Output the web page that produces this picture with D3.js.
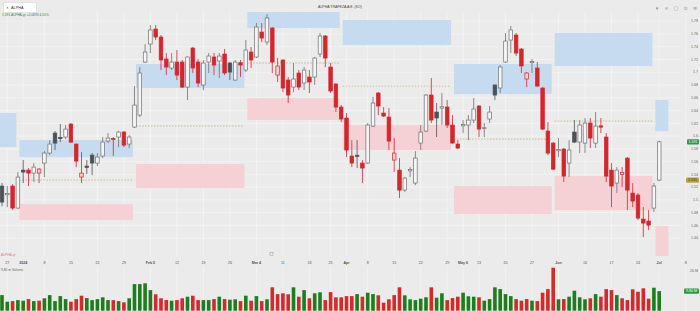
<!DOCTYPE html>
<html>
<head>
<meta charset="utf-8">
<script src="https://cdnjs.cloudflare.com/ajax/libs/d3/7.8.5/d3.min.js"></script>
<style>
body { margin: 0; background: #ebebeb; overflow: hidden; }
svg { display: block; font-family: "Liberation Sans", Arial, sans-serif; }
</style>
</head>
<body>
<svg id="chart" width="700" height="311"></svg>
<script>
// daily OHLC + volume (millions), one entry per trading day
var opens = [1.5217,1.508,1.5217,1.4872,1.5467,1.5467,1.542,1.542,1.5577,1.5734,
  1.6047,1.598,1.5985,1.6188,1.5875,1.5358,1.553,1.5702,1.5577,1.5687,
  1.5922,1.596,1.5985,1.6063,1.5875,1.6141,1.6329,1.716,1.7442,1.7677,
  1.7552,1.7207,1.7066,1.716,1.716,1.6768,1.738,1.716,1.68,1.716,
  1.7239,1.7176,1.7286,1.7145,1.6878,1.715,1.7035,1.7317,1.7239,1.763,
  1.7474,1.7693,1.6956,1.7192,1.6878,1.6768,1.6988,1.6831,1.6925,1.6925,
  1.7286,1.7568,1.7082,1.6815,1.6455,1.6283,1.5687,1.57,1.5577,1.5577,
  1.6157,1.6674,1.6361,1.6298,1.5624,1.5467,1.5154,1.5455,1.5264,1.589,
  1.6079,1.6643,1.6376,1.644,1.6455,1.6173,1.5875,1.616,1.6173,1.6251,
  1.6471,1.612,1.6267,1.68,1.6753,1.716,1.7505,1.7583,1.7364,1.6894,
  1.715,1.7066,1.6753,1.6079,1.589,1.577,1.5797,1.5577,1.6063,1.5906,
  1.589,1.6204,1.589,1.616,1.5985,1.5467,1.5264,1.54,1.5655,1.5107,
  1.5076,1.47,1.4668,1.4872,1.5311];
var highs = [1.5264,1.5217,1.5248,1.5436,1.5624,1.5499,1.5577,1.55,1.5765,1.5937,
  1.6079,1.6188,1.6173,1.6204,1.588,1.5749,1.5624,1.5734,1.5734,1.5985,
  1.6047,1.5985,1.6079,1.6079,1.6016,1.6784,1.7082,1.7442,1.774,1.774,
  1.7583,1.7301,1.7301,1.7348,1.7192,1.7245,1.7395,1.7207,1.7192,1.7301,
  1.7301,1.7301,1.7364,1.716,1.7192,1.7192,1.7505,1.7395,1.7772,1.7772,
  1.7913,1.7709,1.7223,1.72,1.6925,1.7145,1.7035,1.7082,1.7035,1.7239,
  1.7615,1.7583,1.7145,1.6831,1.6486,1.6361,1.5937,1.5937,1.5624,1.6204,
  1.6612,1.669,1.6455,1.6439,1.5969,1.5655,1.5358,1.5514,1.5765,1.6173,
  1.6659,1.6909,1.6518,1.6674,1.6565,1.6329,1.5937,1.6251,1.6329,1.6596,
  1.6486,1.6204,1.6471,1.681,1.7113,1.7615,1.7725,1.7615,1.738,1.7003,
  1.7207,1.716,1.6768,1.622,1.5906,1.5969,1.5812,1.5937,1.6251,1.6251,
  1.6283,1.6283,1.6376,1.6283,1.6047,1.5577,1.5514,1.5514,1.5671,1.5264,
  1.5107,1.4888,1.484,1.5264,1.593];
var lows = [1.4903,1.4888,1.484,1.486,1.5264,1.5217,1.528,1.5264,1.5358,1.5702,
  1.5781,1.5906,1.5953,1.589,1.5514,1.5264,1.5405,1.5389,1.553,1.5655,
  1.589,1.5687,1.5828,1.5828,1.5812,1.6126,1.6298,1.7145,1.7301,1.7505,
  1.7035,1.6956,1.7035,1.6878,1.6753,1.6565,1.6988,1.6768,1.6721,1.6988,
  1.6956,1.6909,1.6956,1.6878,1.687,1.6925,1.7003,1.7066,1.7223,1.7474,
  1.7427,1.6988,1.6847,1.669,1.6518,1.669,1.6721,1.6721,1.6674,1.68,
  1.7239,1.7082,1.6674,1.6376,1.622,1.5671,1.5514,1.5499,1.5264,1.5562,
  1.6141,1.6329,1.6298,1.5781,1.5436,1.5029,1.5122,1.5358,1.5232,1.5781,
  1.6063,1.6204,1.5985,1.6173,1.6126,1.5885,1.5797,1.6047,1.5937,1.6204,
  1.5985,1.5985,1.6204,1.6565,1.6674,1.7145,1.7301,1.7254,1.6988,1.6768,
  1.6988,1.6768,1.6094,1.5702,1.5467,1.5671,1.528,1.5358,1.589,1.5734,
  1.5734,1.5812,1.5812,1.6047,1.528,1.4888,1.5107,1.5201,1.484,1.4888,
  1.4684,1.4417,1.4527,1.4809,1.5295];
var closes = [1.4966,1.51,1.4872,1.5358,1.5436,1.542,1.5514,1.5483,1.5734,1.5875,
  1.589,1.596,1.611,1.5906,1.5609,1.542,1.551,1.5577,1.5671,1.5906,
  1.5969,1.595,1.6063,1.5859,1.5985,1.6486,1.6988,1.7317,1.7662,1.7552,
  1.7192,1.7082,1.716,1.6956,1.6768,1.7239,1.7066,1.6831,1.7145,1.7254,
  1.7113,1.7254,1.6988,1.7003,1.716,1.7113,1.7348,1.7192,1.7709,1.7536,
  1.785,1.716,1.7098,1.6753,1.6643,1.6894,1.6768,1.7035,1.6847,1.7223,
  1.7568,1.7223,1.6706,1.6455,1.6267,1.5781,1.5577,1.568,1.5499,1.6173,
  1.6518,1.6471,1.6314,1.5922,1.5734,1.5154,1.5342,1.5475,1.5655,1.6063,
  1.6643,1.6251,1.6283,1.646,1.6173,1.589,1.5812,1.618,1.6251,1.6424,
  1.611,1.613,1.6376,1.6643,1.7082,1.7489,1.7662,1.7301,1.7098,1.6988,
  1.717,1.6784,1.611,1.5734,1.5483,1.579,1.5373,1.5781,1.5906,1.6173,
  1.6204,1.5969,1.6157,1.614,1.5373,1.5217,1.5467,1.543,1.5154,1.4982,
  1.4715,1.4637,1.4605,1.5217,1.591];
var volumes = [7.8,4.5,4.8,5.3,5.0,5.8,4.8,5.0,6.2,7.8,
  4.8,7.3,5.8,4.5,5.8,7.5,6.3,5.3,5.8,6.7,
  5.3,5.3,4.8,4.2,6.2,13.3,13.3,13.7,10.3,8.2,
  6.2,5.3,5.0,5.3,6.2,7.0,7.5,5.3,5.3,5.3,
  5.8,7.0,5.8,5.5,5.7,4.8,7.5,5.0,7.3,4.8,
  5.7,11.7,8.3,8.7,8.2,11.7,7.0,10.3,6.2,8.7,
  9.2,5.3,9.3,6.7,6.7,7.3,7.3,8.3,7.0,9.0,
  8.3,7.7,4.0,5.7,7.8,11.7,7.7,5.7,5.3,6.0,
  6.7,11.7,6.5,8.7,5.3,6.3,7.0,9.0,7.2,7.0,
  6.7,5.0,5.8,11.7,10.8,8.3,7.3,5.8,5.0,5.8,
  5.0,4.8,9.0,10.8,21.5,5.7,5.8,7.0,10.0,6.7,
  5.7,6.2,8.3,7.0,10.8,10.3,7.8,6.2,5.3,10.7,
  9.5,11.2,6.0,11.5,9.8];

// date axis (bar index of each label)
var tickIdx = [1,4,8,13,18,23,28,33,38,43,48,53,58,62,65,69,74,79,84,87,90,95,100,105,110,115,120,124,129];
var tickLabels = ["27","2024","8","15","22","29","Feb 5","12","19","26","Mar 4","11","18","25","Apr","8","15","22","29","May 6","13","20","27","Jun","10","17","24","Jul","8"];
var boldLabels = ["2024","Feb 5","Mar 4","Apr","May 6","Jun","Jul"];
var priceTicks = [1.44,1.46,1.48,1.5,1.52,1.54,1.56,1.58,1.6,1.62,1.64,1.66,1.68,1.7,1.72,1.74,1.76,1.78];

// monthly zones: bar range, blue band, pink band, mid line
var zoneStart = [-3, 3, 25, 46, 64, 85, 104, 123];
var zoneNext  = [3, 25, 46, 64, 85, 104, 123, 126];
var blueHi = [1.6361,1.5937,1.7129,1.7944,1.7819,1.7129,1.7615,1.6565];
var blueLo = [1.5828,1.5671,1.6753,1.7693,1.7427,1.6659,1.7098,1.6079];
var pinkHi = [null,1.4934,1.5562,1.6596,1.6173,1.5217,1.5373,1.459];
var pinkLo = [null,1.4684,1.5185,1.6251,1.5781,1.4778,1.484,1.4119];
var midLine = [null,1.5311,1.6157,1.7145,1.6784,1.5953,1.6235,null];

var svg = d3.select("#chart");
var x = d3.scaleLinear().domain([0, 124]).range([2, 659.2]);
var y = d3.scaleLinear().domain([1.44, 1.78]).range([238.2, 21.2]);
var yv = d3.scaleLinear().domain([0, 20]).range([310.7, 270.7]);
var paneTop = 11, paneBot = 256, paneRight = 682;

svg.append("rect").attr("width", 700).attr("height", 311).attr("fill", "#ebebeb");

svg.append("defs").append("clipPath").attr("id", "pane")
  .append("rect").attr("x", 0).attr("y", paneTop).attr("width", paneRight).attr("height", paneBot - paneTop);

// grid
var grid = svg.append("g").attr("stroke", "#f6f6f6").attr("stroke-width", 0.6);
priceTicks.forEach(function (p) {
  grid.append("line").attr("x1", 0).attr("x2", paneRight).attr("y1", y(p)).attr("y2", y(p));
});
tickIdx.forEach(function (t) {
  grid.append("line").attr("x1", x(t)).attr("x2", x(t)).attr("y1", paneTop).attr("y2", paneBot);
  grid.append("line").attr("x1", x(t)).attr("x2", x(t)).attr("y1", 266).attr("y2", 311);
});

var pane = svg.append("g").attr("clip-path", "url(#pane)");

// zones
zoneStart.forEach(function (s, k) {
  var x0 = Math.max(0, x(s) + 1.5), x1 = x(zoneNext[k]) - 1.5;
  pane.append("rect").attr("x", x0).attr("width", x1 - x0)
    .attr("y", y(blueHi[k])).attr("height", y(blueLo[k]) - y(blueHi[k]))
    .attr("fill", "#c6dbef");
  if (pinkHi[k] != null) {
    pane.append("rect").attr("x", x0).attr("width", x1 - x0)
      .attr("y", y(pinkHi[k])).attr("height", y(pinkLo[k]) - y(pinkHi[k]))
      .attr("fill", "#f5d1d5");
  }
  if (midLine[k] != null) {
    pane.append("line").attr("x1", x0).attr("x2", x1)
      .attr("y1", y(midLine[k])).attr("y2", y(midLine[k]))
      .attr("stroke", "#b89a58").attr("stroke-width", 0.6).attr("stroke-dasharray", "1.5,1.5");
  }
});

var bars = d3.range(closes.length).map(function (i) {
  var prev = i > 0 ? closes[i - 1] : closes[i];
  return { i: i, o: opens[i], h: highs[i], l: lows[i], c: closes[i], v: volumes[i],
    down: closes[i] < prev, hollow: closes[i] >= opens[i] };
});

function strokeOf(d) { return d.down ? "#d3262d" : (d.hollow ? "#707070" : "#4b5157"); }
function fillOf(d) {
  if (d.hollow) return d.down ? "#f4cdd0" : "#f5f5f5";
  return d.down ? "#d3262d" : "#4b5157";
}

var cg = pane.append("g");
cg.selectAll("line.wick").data(bars).enter().append("line")
  .attr("class", "wick")
  .attr("x1", function (d) { return x(d.i); }).attr("x2", function (d) { return x(d.i); })
  .attr("y1", function (d) { return y(d.h); }).attr("y2", function (d) { return y(d.l); })
  .attr("stroke", strokeOf).attr("stroke-width", 0.8);
cg.selectAll("rect.body").data(bars).enter().append("rect")
  .attr("class", "body")
  .attr("x", function (d) { return x(d.i) - 1.8; })
  .attr("width", 3.6)
  .attr("y", function (d) { return y(Math.max(d.o, d.c)); })
  .attr("height", function (d) { return Math.max(0.8, Math.abs(y(d.o) - y(d.c))); })
  .attr("fill", fillOf).attr("stroke", strokeOf).attr("stroke-width", 0.7);

// volume
svg.append("g").selectAll("rect").data(bars).enter().append("rect")
  .attr("x", function (d) { return x(d.i) - 1.8; })
  .attr("width", 3.6)
  .attr("y", function (d) { return yv(d.v); })
  .attr("height", function (d) { return yv(0) - yv(d.v); })
  .attr("fill", function (d) { return d.down ? "#d42a2a" : "#1d7d1f"; });

// price axis
var axisG = svg.append("g").attr("font-size", 3.6).attr("fill", "#666").attr("text-anchor", "end");
priceTicks.forEach(function (p) {
  axisG.append("text").attr("x", 698).attr("y", y(p) + 1.2).text(String(+p.toFixed(2)));
});
var last = bars[bars.length - 1];
svg.append("rect").attr("x", 686).attr("y", y(last.o) - 2.6).attr("width", 13).attr("height", 5.2)
  .attr("rx", 1).attr("fill", "#b9a043");
svg.append("text").attr("x", 692.5).attr("y", y(last.o) + 1.3).attr("text-anchor", "middle")
  .attr("font-size", 3.6).attr("fill", "#3a3000").text(last.o.toFixed(3));
svg.append("rect").attr("x", 687).attr("y", y(last.c) - 2.6).attr("width", 12).attr("height", 5.2)
  .attr("rx", 1).attr("fill", "#2e9a3c");
svg.append("text").attr("x", 693).attr("y", y(last.c) + 1.3).attr("text-anchor", "middle")
  .attr("font-size", 3.6).attr("fill", "#fff").text(last.c.toFixed(3));

// volume axis
svg.append("text").attr("x", 698).attr("y", yv(20) + 1.2).attr("text-anchor", "end")
  .attr("font-size", 3.6).attr("fill", "#666").text("20 M");
svg.append("rect").attr("x", 684).attr("y", yv(last.v) - 2.6).attr("width", 15).attr("height", 5.2)
  .attr("rx", 1).attr("fill", "#2e9a3c");
svg.append("text").attr("x", 691.5).attr("y", yv(last.v) + 1.3).attr("text-anchor", "middle")
  .attr("font-size", 3.6).attr("fill", "#fff").text(last.v.toFixed(2) + " M");

// date axis
var dg = svg.append("g").attr("font-size", 3.6).attr("fill", "#555").attr("text-anchor", "middle");
tickIdx.forEach(function (t, k) {
  dg.append("text").attr("x", x(t)).attr("y", 263.5)
    .attr("font-weight", boldLabels.indexOf(tickLabels[k]) >= 0 ? "bold" : "normal")
    .text(tickLabels[k]);
});

// header
svg.append("rect").attr("x", 3.5).attr("y", 2.5).attr("width", 33).attr("height", 10)
  .attr("fill", "#fff").attr("stroke", "#cfcfcf").attr("stroke-width", 0.5);
svg.append("text").attr("x", 6.5).attr("y", 9.3).attr("font-size", 6).attr("fill", "#555").text("‹");
svg.append("text").attr("x", 11).attr("y", 9).attr("font-size", 3.8).attr("fill", "#333").text("ALPHA");
svg.append("text").attr("x", 340).attr("y", 8).attr("text-anchor", "middle")
  .attr("font-size", 3.5).attr("fill", "#444").text("ALPHA TRAPEZA A.E. (KO)");
svg.append("text").attr("x", 2).attr("y", 16).attr("font-size", 3.3).attr("fill", "#2a8a2a")
  .text("1,591  ALPHA.gr  +0,0693  4,55%");
var icons = ["▾", "×", "▢", "⊙", "≡"];
icons.forEach(function (s, k) {
  svg.append("text").attr("x", 657 + k * 9.5).attr("y", 9.5).attr("text-anchor", "middle")
    .attr("font-family", "DejaVu Sans").attr("font-size", 5).attr("fill", "#888").text(s);
});

svg.append("text").attr("x", 1).attr("y", 256).attr("font-size", 3.3).attr("fill", "#e07b80").text("ALPHA.gr");
svg.append("text").attr("x", 1).attr("y", 270.5).attr("font-size", 3.3).attr("fill", "#666").text("9,80 m Volume");
svg.append("rect").attr("x", 270).attr("y", 252.5).attr("width", 3).attr("height", 3)
  .attr("fill", "none").attr("stroke", "#999").attr("stroke-width", 0.5);
</script>
</body>
</html>
